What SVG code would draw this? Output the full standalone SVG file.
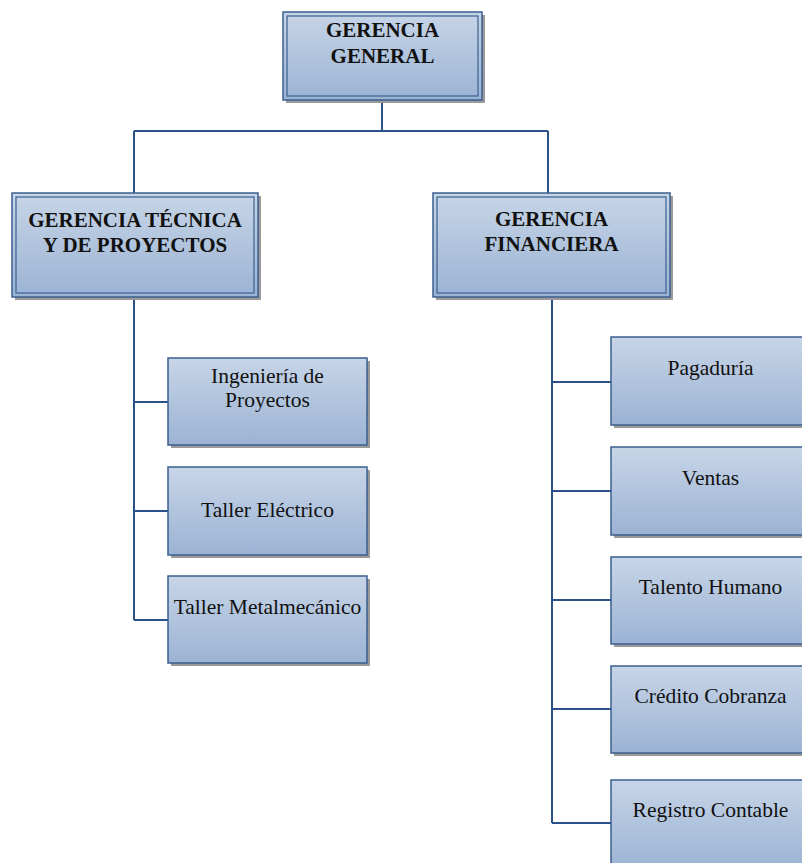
<svg xmlns="http://www.w3.org/2000/svg" width="802" height="863" viewBox="0 0 802 863">
  <defs>
    <linearGradient id="boxFill" x1="0" y1="0" x2="0" y2="1">
      <stop offset="0" stop-color="#c7d5e7"/>
      <stop offset="1" stop-color="#9bb3d4"/>
    </linearGradient>
    <style>
      .shadow { fill: #9a9a9a; }
      .box { fill: url(#boxFill); stroke: #3b5f90; stroke-width: 1.5; }
      .inner { fill: none; stroke: #3b5f90; stroke-width: 1.2; }
      .link { fill: none; stroke: #2b5288; stroke-width: 2; }
      text { font-family: 'Liberation Serif', 'Times New Roman', Times, serif; fill: #111; text-anchor: middle; }
      .head { font-weight: bold; font-size: 21px; }
      .unit { font-size: 21.5px; }
    </style>
  </defs>

  <!-- connectors -->
  <g id="connectors">
    <path class="link" d="M382 100 V131 M134 131 H548 M134 131 V193 M548 131 V193"/>
    <path class="link" d="M134 297 V620 M134 402 H168 M134 511 H168 M134 620 H168"/>
    <path class="link" d="M552 297 V823 M552 382 H611 M552 491 H611 M552 600 H611 M552 709 H611 M552 823 H611"/>
  </g>

  <!-- top level -->
  <g id="gerencia-general">
    <rect class="shadow" x="286" y="15" width="199" height="88"/>
    <rect class="box" x="283" y="12" width="199" height="88"/>
    <rect class="inner" x="287" y="16" width="191" height="80"/>
    <text class="head" x="382.5" y="37">GERENCIA</text>
    <text class="head" x="382.5" y="63">GENERAL</text>
  </g>

  <!-- second level -->
  <g id="gerencia-tecnica">
    <rect class="shadow" x="15" y="196" width="246" height="104"/>
    <rect class="box" x="12" y="193" width="246" height="104"/>
    <rect class="inner" x="16" y="197" width="238" height="96"/>
    <text class="head" x="135" y="227">GERENCIA TÉCNICA</text>
    <text class="head" x="135" y="252">Y DE PROYECTOS</text>
  </g>

  <g id="gerencia-financiera">
    <rect class="shadow" x="436" y="196" width="237" height="104"/>
    <rect class="box" x="433" y="193" width="237" height="104"/>
    <rect class="inner" x="437" y="197" width="229" height="96"/>
    <text class="head" x="551.5" y="226">GERENCIA</text>
    <text class="head" x="551.5" y="251">FINANCIERA</text>
  </g>

  <!-- technical units -->
  <g id="ingenieria-proyectos">
    <rect class="shadow" x="171" y="361" width="199" height="87"/>
    <rect class="box" x="168" y="358" width="199" height="87"/>
    <text class="unit" x="267.5" y="383">Ingeniería de</text>
    <text class="unit" x="267.5" y="407">Proyectos</text>
  </g>

  <g id="taller-electrico">
    <rect class="shadow" x="171" y="470" width="199" height="88"/>
    <rect class="box" x="168" y="467" width="199" height="88"/>
    <text class="unit" x="267.5" y="517">Taller Eléctrico</text>
  </g>

  <g id="taller-metalmecanico">
    <rect class="shadow" x="171" y="579" width="199" height="87"/>
    <rect class="box" x="168" y="576" width="199" height="87"/>
    <text class="unit" x="267.5" y="614">Taller Metalmecánico</text>
  </g>

  <!-- financial units -->
  <g id="pagaduria">
    <rect class="shadow" x="614" y="340" width="199" height="88"/>
    <rect class="box" x="611" y="337" width="199" height="88"/>
    <text class="unit" x="710.5" y="375">Pagaduría</text>
  </g>

  <g id="ventas">
    <rect class="shadow" x="614" y="450" width="199" height="88"/>
    <rect class="box" x="611" y="447" width="199" height="88"/>
    <text class="unit" x="710.5" y="485">Ventas</text>
  </g>

  <g id="talento-humano">
    <rect class="shadow" x="614" y="560" width="199" height="87"/>
    <rect class="box" x="611" y="557" width="199" height="87"/>
    <text class="unit" x="710.5" y="594">Talento Humano</text>
  </g>

  <g id="credito-cobranza">
    <rect class="shadow" x="614" y="669" width="199" height="87"/>
    <rect class="box" x="611" y="666" width="199" height="87"/>
    <text class="unit" x="710.5" y="703">Crédito Cobranza</text>
  </g>

  <g id="registro-contable">
    <rect class="shadow" x="614" y="783" width="199" height="88"/>
    <rect class="box" x="611" y="780" width="199" height="88"/>
    <text class="unit" x="710.5" y="817">Registro Contable</text>
  </g>
</svg>
